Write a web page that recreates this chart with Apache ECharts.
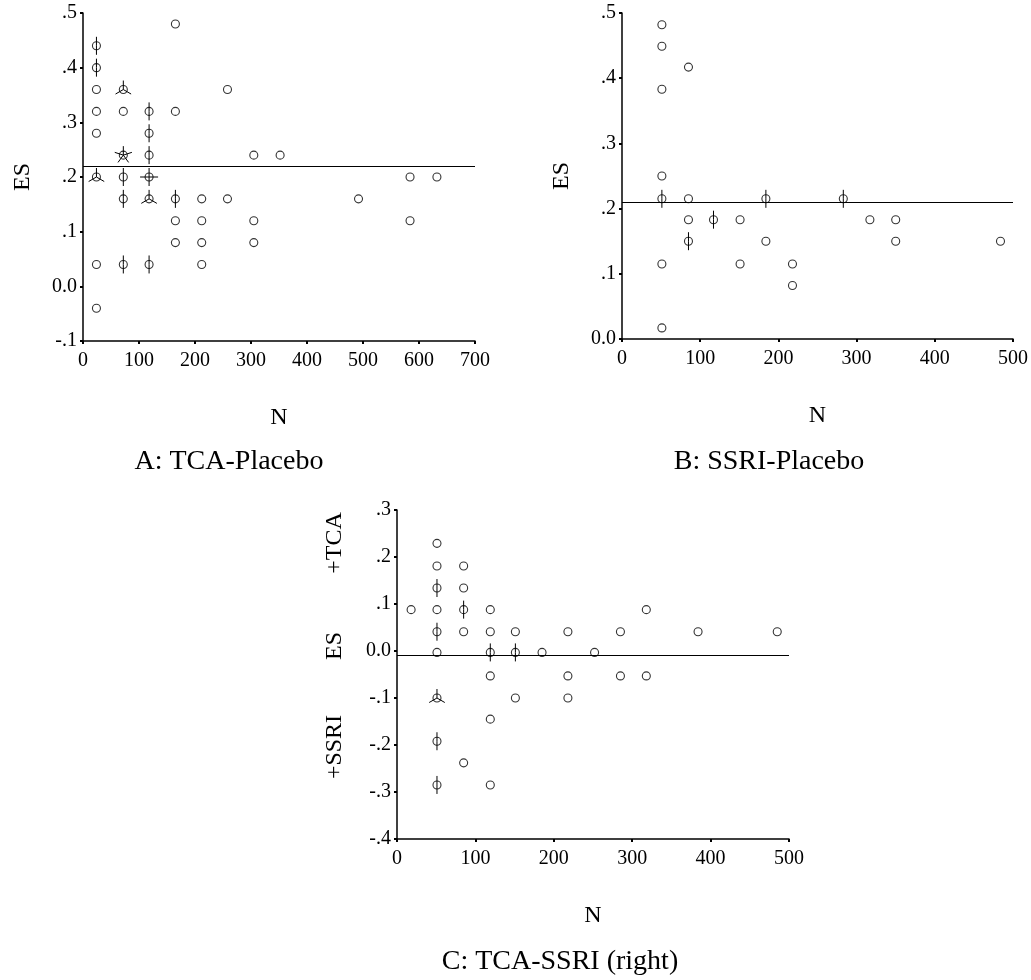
<!DOCTYPE html>
<html lang="en">
<head>
  <meta charset="UTF-8">
  <title>ES by N</title>
  <script src="https://cdn.jsdelivr.net/npm/echarts@6/dist/echarts.min.js"></script>
  <style>
    html, body { margin: 0; padding: 0; background: #fff; }
    #main { width: 1031px; height: 980px; }
  </style>
</head>
<body>
<div id="main"></div>
<script>
  // A: TCA-Placebo  (N, ES, number of studies at that spot)
  var aN   = [24, 24, 24, 24, 24, 24, 24, 24,
              72, 72, 72, 72, 72, 72,
              118, 118, 118, 118, 118, 118,
              165, 165, 165, 165, 165,
              212, 212, 212, 212,
              258, 258, 305, 305, 305, 352, 492, 584, 584, 632];
  var aES  = [0.44, 0.40, 0.36, 0.32, 0.28, 0.20, 0.04, -0.04,
              0.36, 0.32, 0.24, 0.20, 0.16, 0.04,
              0.32, 0.28, 0.24, 0.20, 0.16, 0.04,
              0.48, 0.32, 0.16, 0.12, 0.08,
              0.16, 0.12, 0.08, 0.04,
              0.36, 0.16, 0.24, 0.12, 0.08, 0.24, 0.16, 0.20, 0.12, 0.20];
  var aCnt = [2, 2, 1, 1, 1, 3, 1, 1,
              3, 1, 5, 2, 2, 2,
              2, 2, 2, 4, 3, 2,
              1, 1, 2, 1, 1,
              1, 1, 1, 1,
              1, 1, 1, 1, 1, 1, 1, 1, 1, 1];
  var aMean = 0.218;
  var aXTicks = ['0', '100', '200', '300', '400', '500', '600', '700'];
  var aYTicks = ['-.1', '0.0', '.1', '.2', '.3', '.4', '.5'];

  // B: SSRI-Placebo
  var bN   = [51, 51, 51, 51, 51, 51, 51,
              85, 85, 85, 85,
              117, 151, 151, 184, 184, 218, 218, 283, 317, 350, 350, 484];
  var bES  = [0.482, 0.449, 0.383, 0.25, 0.215, 0.115, 0.017,
              0.417, 0.215, 0.183, 0.15,
              0.183, 0.183, 0.115, 0.215, 0.15, 0.115, 0.082, 0.215, 0.183, 0.183, 0.15, 0.15];
  var bCnt = [1, 1, 1, 1, 2, 1, 1,
              1, 1, 1, 2,
              2, 1, 1, 2, 1, 1, 1, 2, 1, 1, 1, 1];
  var bMean = 0.209;
  var bXTicks = ['0', '100', '200', '300', '400', '500'];
  var bYTicks = ['0.0', '.1', '.2', '.3', '.4', '.5'];

  // C: TCA-SSRI
  var cN   = [18,
              51, 51, 51, 51, 51, 51, 51, 51, 51,
              85, 85, 85, 85, 85,
              119, 119, 119, 119, 119, 119,
              151, 151, 151,
              185, 218, 218, 218, 252, 285, 285, 318, 318, 384, 485];
  var cES  = [0.088,
              0.229, 0.181, 0.134, 0.088, 0.041, -0.003, -0.1, -0.192, -0.285,
              0.181, 0.134, 0.088, 0.041, -0.238,
              0.088, 0.041, -0.003, -0.053, -0.145, -0.285,
              0.041, -0.003, -0.1,
              -0.003, 0.041, -0.053, -0.1, -0.003, 0.041, -0.053, 0.088, -0.053, 0.041, 0.041];
  var cCnt = [1,
              1, 1, 2, 1, 2, 1, 3, 2, 2,
              1, 1, 2, 1, 1,
              1, 1, 2, 1, 1, 1,
              1, 2, 1,
              1, 1, 1, 1, 1, 1, 1, 1, 1, 1, 1];
  var cMean = -0.011;
  var cXTicks = ['0', '100', '200', '300', '400', '500'];
  var cYTicks = ['-.4', '-.3', '-.2', '-.1', '0.0', '.1', '.2', '.3'];

  var FONT = '"Liberation Serif", "DejaVu Serif", serif';

  function pts(ns, es) {
    return ns.map(function (n, i) { return [n, es[i]]; });
  }
  function multi(ns, es, cnt) {
    var out = [];
    for (var i = 0; i < ns.length; i++) {
      if (cnt[i] > 1) out.push([ns[i], es[i], cnt[i]]);
    }
    return out;
  }

  // sunflower petals: one short line per study at that spot
  function petals(params, api) {
    var c = api.coord([api.value(0), api.value(1)]);
    var k = api.value(2);
    var r = 9;
    var kids = [];
    for (var i = 0; i < k; i++) {
      var ang = Math.PI / 2 + i * 2 * Math.PI / k;
      kids.push({
        type: 'line',
        shape: { x1: c[0], y1: c[1], x2: c[0] + r * Math.cos(ang), y2: c[1] - r * Math.sin(ang) },
        style: { stroke: '#000', lineWidth: 1 }
      });
    }
    return { type: 'group', children: kids };
  }

  function xAx(gi, max, ticks) {
    return {
      gridIndex: gi, type: 'value', min: 0, max: max, interval: 100,
      name: 'N', nameLocation: 'middle', nameGap: 65,
      nameTextStyle: { fontFamily: FONT, fontSize: 24, color: '#000' },
      axisLine: { onZero: false, lineStyle: { color: '#000', width: 1.5 } },
      axisTick: { length: 3, lineStyle: { color: '#000', width: 2 } },
      axisLabel: {
        fontFamily: FONT, fontSize: 20, color: '#000', margin: 10,
        formatter: function (v) { return ticks[Math.round(v / 100)]; }
      },
      splitLine: { show: false }
    };
  }
  function yAx(gi, min, max, ticks, name) {
    return {
      gridIndex: gi, type: 'value', min: min, max: max, interval: 0.1,
      name: name, nameLocation: 'middle', nameGap: 48,
      nameTextStyle: { fontFamily: FONT, fontSize: 24, color: '#000' },
      axisLine: { onZero: false, lineStyle: { color: '#000', width: 1.5 } },
      axisTick: { length: 3, lineStyle: { color: '#000', width: 2 } },
      axisLabel: {
        fontFamily: FONT, fontSize: 20, color: '#000', margin: 6,
        formatter: function (v) { return ticks[Math.round((v - min) / 0.1)]; }
      },
      splitLine: { show: false }
    };
  }
  function dots(gi, data, mean) {
    return {
      type: 'scatter', xAxisIndex: gi, yAxisIndex: gi, data: data,
      symbol: 'circle', symbolSize: 8,
      itemStyle: { color: 'rgba(255,255,255,0)', borderColor: '#000', borderWidth: 1.1 },
      markLine: {
        silent: true, symbol: 'none', label: { show: false },
        lineStyle: { color: '#000', width: 1, type: 'solid' },
        data: [{ yAxis: mean }]
      },
      z: 3
    };
  }
  function flowers(gi, data) {
    return {
      type: 'custom', xAxisIndex: gi, yAxisIndex: gi, data: data,
      renderItem: petals, z: 4
    };
  }
  function title(txt, x, y) {
    return {
      type: 'text', x: x, y: y,
      style: { text: txt, font: '28px ' + FONT, fill: '#000', textAlign: 'center', textVerticalAlign: 'middle' }
    };
  }
  function sideText(txt, x, y) {
    return {
      type: 'text', x: x, y: y, rotation: Math.PI / 2,
      style: { text: txt, font: '24px ' + FONT, fill: '#000', textAlign: 'center', textVerticalAlign: 'middle' }
    };
  }

  var myChart = echarts.init(document.getElementById('main'));
  var option = {
    backgroundColor: '#fff',
    animation: false,
    grid: [
      { left: 83, top: 13, width: 392, height: 328 },
      { left: 622, top: 13, width: 391, height: 326 },
      { left: 397, top: 510, width: 392, height: 329 }
    ],
    xAxis: [xAx(0, 700, aXTicks), xAx(1, 500, bXTicks), xAx(2, 500, cXTicks)],
    yAxis: [yAx(0, -0.1, 0.5, aYTicks, 'ES'), yAx(1, 0, 0.5, bYTicks, 'ES'), yAx(2, -0.4, 0.3, cYTicks, '')],
    series: [
      dots(0, pts(aN, aES), aMean), flowers(0, multi(aN, aES, aCnt)),
      dots(1, pts(bN, bES), bMean), flowers(1, multi(bN, bES, bCnt)),
      dots(2, pts(cN, cES), cMean), flowers(2, multi(cN, cES, cCnt))
    ],
    graphic: [
      title('A: TCA-Placebo', 229, 462),
      title('B: SSRI-Placebo', 769, 462),
      title('C: TCA-SSRI (right)', 560, 962),
      sideText('+TCA', 335, 543),
      sideText('ES', 335, 646),
      sideText('+SSRI', 335, 747)
    ]
  };

  option && myChart.setOption(option);
</script>
</body>
</html>
